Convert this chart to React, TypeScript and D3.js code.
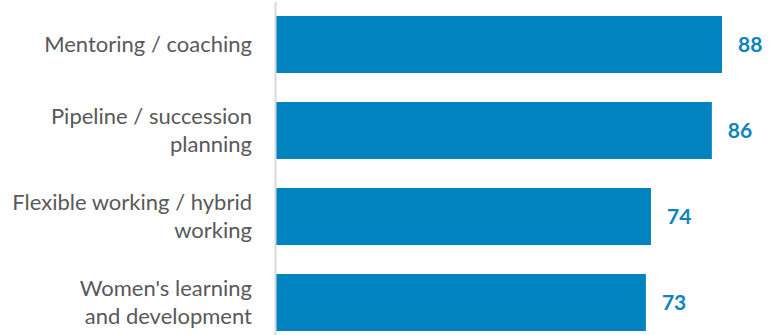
import React from "react";
import * as d3 from "d3";

const categories: string[][] = [
  ["Mentoring / coaching"],
  ["Pipeline / succession", "planning"],
  ["Flexible working / hybrid", "working"],
  ["Women's learning", "and development"],
];
const values: number[] = [88, 86, 74, 73];

const W = 777;
const H = 335;
const AXIS_X = 275.5;

export default function App() {
  const x = d3.scaleLinear().domain([0, 88]).range([AXIS_X, 722]);
  const y = d3
    .scaleBand<number>()
    .domain(d3.range(categories.length))
    .range([1.5, 345.5])
    .paddingInner(0.337)
    .paddingOuter(0.1685);
  const bw = y.bandwidth();
  const lineH = 28;
  return (
    <svg
      width={W}
      height={H}
      style={{ position: "absolute", left: 0, top: 0, display: "block" }}
    >
      <rect width={W} height={H} fill="#ffffff" />
      {values.map((v, i) => {
        const y0 = y(i)!;
        const cy = y0 + bw / 2;
        const lines = categories[i];
        return (
          <g key={i}>
            <rect
              x={x(0)}
              y={y0}
              width={x(v) - x(0)}
              height={bw}
              fill="#0083BF"
            />
            <text
              x={x(v) + 16}
              y={cy}
              dy="0.36em"
              fill="#0E83BE"
              fontFamily="Lato, 'Open Sans', sans-serif"
              fontWeight={700}
              fontSize={21}
            >
              {v}
            </text>
            {lines.map((l, j) => (
              <text
                key={j}
                x={252}
                y={cy + (j - (lines.length - 1) / 2) * lineH}
                dy="0.36em"
                textAnchor="end"
                fill="#595959"
                fontFamily="Lato, 'Open Sans', sans-serif"
                fontSize={22}
              >
                {l}
              </text>
            ))}
          </g>
        );
      })}
      <line
        x1={AXIS_X}
        x2={AXIS_X}
        y1={2}
        y2={H}
        stroke="#d9d9d9"
        strokeWidth={2}
      />
    </svg>
  );
}
